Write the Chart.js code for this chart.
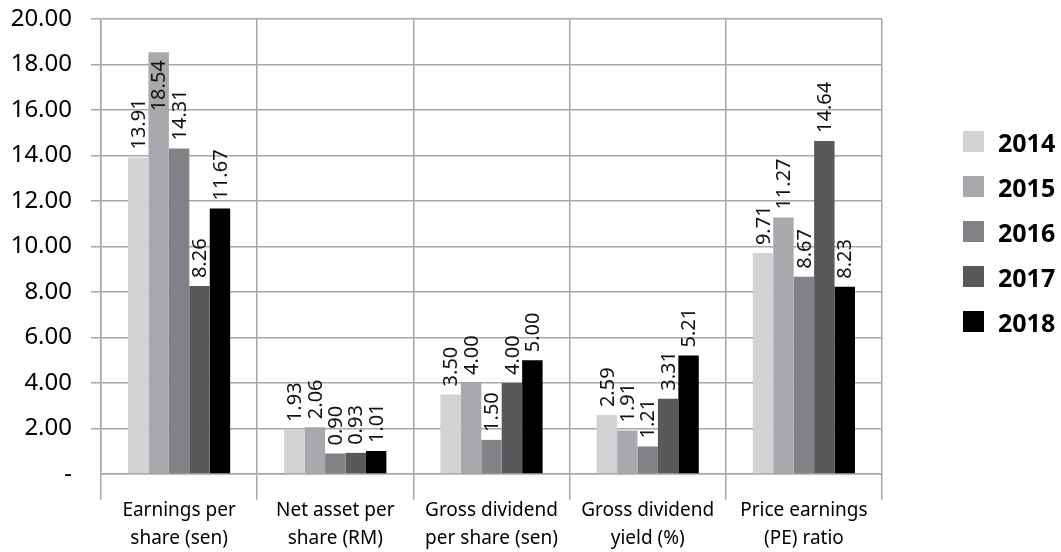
<!DOCTYPE html>
<html>
<head>
<meta charset="utf-8">
<script src="https://cdn.jsdelivr.net/npm/chart.js@4.4.0/dist/chart.umd.min.js"></script>
<style>
  body { margin: 0; background: #fff; }
  #wrap { position: relative; width: 1061px; height: 552px; }
  #legend { position: absolute; left: 963px; top: 119px; font-family: 'Noto Sans', sans-serif; }
  .leg-item { display: flex; align-items: center; height: 45px; }
  .leg-box { width: 21px; height: 21px; margin-right: 14px; }
  .leg-text { font-size: 25px; font-weight: 700; color: #000; }
</style>
</head>
<body>
<div id="wrap">
  <canvas id="chart"></canvas>
  <div id="legend"></div>
</div>
<script>
const categories = [
  ['Earnings per', 'share (sen)'],
  ['Net asset per', 'share (RM)'],
  ['Gross dividend', 'per share (sen)'],
  ['Gross dividend', 'yield (%)'],
  ['Price earnings', '(PE) ratio']
];
const years = ['2014', '2015', '2016', '2017', '2018'];
const y2014 = [13.91, 1.93, 3.50, 2.59, 9.71];
const y2015 = [18.54, 2.06, 4.00, 1.91, 11.27];
const y2016 = [14.31, 0.90, 1.50, 1.21, 8.67];
const y2017 = [8.26, 0.93, 4.00, 3.31, 14.64];
const y2018 = [11.67, 1.01, 5.00, 5.21, 8.23];
const yTicks = [0, 2, 4, 6, 8, 10, 12, 14, 16, 18, 20];

const series = [y2014, y2015, y2016, y2017, y2018];
const colors = ['#d1d2d4', '#a7a9ac', '#808285', '#58595b', '#000000'];
const GRID = '#a8a8a8';
const FONT = "'Noto Sans', sans-serif";

// vertical value labels above each bar (pushed inside when they would run off the top)
const barLabels = {
  id: 'barLabels',
  afterDatasetsDraw(chart) {
    const { ctx, chartArea } = chart;
    ctx.save();
    ctx.font = '20px ' + FONT;
    ctx.fillStyle = '#111';
    ctx.textAlign = 'left';
    ctx.textBaseline = 'middle';
    chart.data.datasets.forEach((ds, i) => {
      chart.getDatasetMeta(i).data.forEach((bar, j) => {
        const txt = ds.data[j].toFixed(2);
        const w = ctx.measureText(txt).width;
        const off = 8;
        let base = bar.y - off;
        if (base - w < chartArea.top) base = bar.y + off + w;
        ctx.save();
        ctx.translate(bar.x, base);
        ctx.rotate(-Math.PI / 2);
        ctx.fillText(txt, 0, 1);
        ctx.restore();
      });
    });
    ctx.restore();
  }
};

new Chart(document.getElementById('chart'), {
  type: 'bar',
  data: {
    labels: categories,
    datasets: years.map((yr, i) => ({
      label: yr,
      data: series[i],
      backgroundColor: colors[i],
      borderWidth: 0,
      barPercentage: 1,
      categoryPercentage: 0.654
    }))
  },
  options: {
    responsive: true,
    maintainAspectRatio: false,
    animation: false,
    layout: { padding: { top: 19, right: 179, left: 0, bottom: 0 } },
    plugins: { legend: { display: false }, tooltip: { enabled: false } },
    scales: {
      x: {
        grid: { color: GRID, lineWidth: 1.5, offset: true, tickLength: 26 },
        border: { color: GRID, width: 1.5 },
        ticks: { color: '#000', padding: -3, font: { family: FONT, size: 19, lineHeight: 1.45 }, maxRotation: 0 },
        afterFit(s) { s.height = 78; }
      },
      y: {
        min: 0,
        max: 20,
        afterBuildTicks(s) { s.ticks = yTicks.map(v => ({ value: v })); },
        grid: {
          color: GRID, lineWidth: 1.5, tickLength: 10,
          tickColor: c => (c.tick && c.tick.value === 0 ? 'rgba(0,0,0,0)' : GRID)
        },
        border: { color: GRID, width: 1.5 },
        ticks: {
          color: '#000', padding: 19,
          font: { family: FONT, size: 24 },
          callback: v => (v === 0 ? '-' : v.toFixed(2))
        },
        afterFit(s) {
          s.width = 101;
          s.paddingTop = 0;
          s.paddingBottom = 0;
        }
      }
    }
  },
  plugins: [barLabels]
});

const legend = document.getElementById('legend');
years.forEach((yr, i) => {
  const item = document.createElement('div');
  item.className = 'leg-item';
  item.innerHTML = `<span class="leg-box" style="background:${colors[i]}"></span><span class="leg-text">${yr}</span>`;
  legend.appendChild(item);
});
</script>
</body>
</html>
